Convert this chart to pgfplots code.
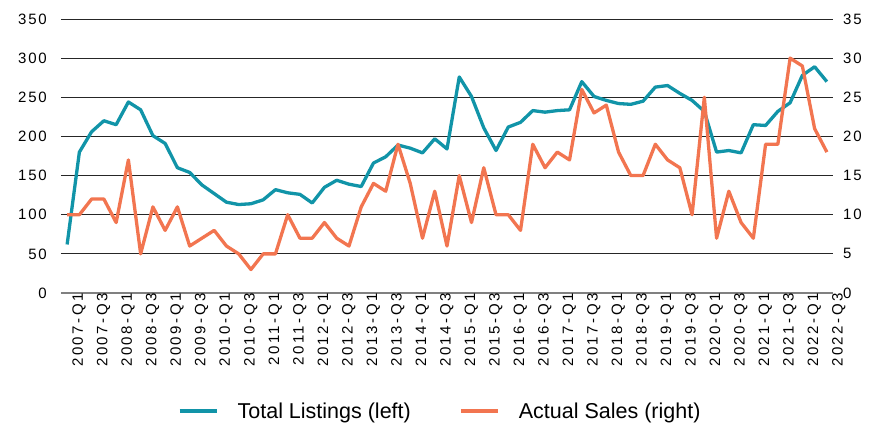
\documentclass[border=0pt]{standalone}
\usepackage{fontspec}
\setmainfont{Liberation Sans}[LetterSpace=12]
\newfontfamily\legfont{Liberation Sans}
\newfontfamily\xfont{Liberation Sans}[LetterSpace=17]
\usepackage{pgfplots}
\usepackage{pgfplotstable}
\pgfplotsset{compat=1.18}
\definecolor{tealc}{RGB}{17,148,168}
\definecolor{orngc}{RGB}{242,117,80}
\pgfplotstableread{
x listings sales
0 62 10
1 180 10
2 206 12
3 220 12
4 215 9
5 244 17
6 234 5
7 201 11
8 191 8
9 160 11
10 154 6
11 138 7
12 127 8
13 116 6
14 113 5
15 114 3
16 119 5
17 132 5
18 128 10
19 126 7
20 115 7
21 135 9
22 144 7
23 139 6
24 136 11
25 166 14
26 174 13
27 189 19
28 185 14
29 179 7
30 197 13
31 184 6
32 276 15
33 251 9
34 211 16
35 182 10
36 212 10
37 218 8
38 233 19
39 231 16
40 233 18
41 234 17
42 270 26
43 251 23
44 246 24
45 242 18
46 241 15
47 245 15
48 263 19
49 265 17
50 255 16
51 246 10
52 232 25
53 180 7
54 182 13
55 179 9
56 215 7
57 214 19
58 232 19
59 243 30
60 278 29
61 289 21
62 270 18
}\datatable
\begin{document}
\begin{tikzpicture}
\path[use as bounding box] (-61bp,-134bp) rectangle (816bp,293bp);
\begin{axis}[
  scale only axis, width=772bp, height=274bp,
  xmin=-0.5, xmax=62.5, ymin=0, ymax=350,
  ytick={0,50,...,350},
  xtick={0,2,...,62},
  xticklabels={2007-Q1,2007-Q3,2008-Q1,2008-Q3,2009-Q1,2009-Q3,2010-Q1,2010-Q3,2011-Q1,2011-Q3,2012-Q1,2012-Q3,2013-Q1,2013-Q3,2014-Q1,2014-Q3,2015-Q1,2015-Q3,2016-Q1,2016-Q3,2017-Q1,2017-Q3,2018-Q1,2018-Q3,2019-Q1,2019-Q3,2020-Q1,2020-Q3,2021-Q1,2021-Q3,2022-Q1,2022-Q3},
  major tick length=0pt,
  /pgf/number format/assume math mode=true,
  xticklabel style={rotate=90, anchor=east, inner sep=0pt, yshift=-12bp, font=\xfont\fontsize{15bp}{15bp}\selectfont},
  yticklabel style={anchor=east, inner sep=0pt, xshift=-14bp, font=\fontsize{15bp}{15bp}\selectfont},
  axis x line*=bottom, axis y line*=left,
  x axis line style={-, draw=black!50, line width=1.6bp},
  y axis line style={draw=none},
  ymajorgrids, grid style={black!85, line width=0.8bp},
  clip=false,
]
\addplot[tealc, line width=3.3bp, line join=round] table[x=x, y=listings] {\datatable};
\end{axis}
\begin{axis}[
  scale only axis, width=772bp, height=274bp,
  xmin=-0.5, xmax=62.5, ymin=0, ymax=35,
  ytick={0,5,...,35},
  xtick=\empty,
  major tick length=0pt,
  /pgf/number format/assume math mode=true,
  yticklabel style={anchor=west, inner sep=0pt, xshift=10bp, font=\fontsize{15bp}{15bp}\selectfont},
  axis x line=none, axis y line*=right,
  y axis line style={draw=none},
  clip=false,
  legend columns=2,
  legend style={at={(0.491,-0.431)}, anchor=center, draw=none, fill=none,
    font=\legfont\fontsize{21.5bp}{21.5bp}\selectfont,
    /tikz/every odd column/.append style={column sep=17bp},
    /tikz/every even column/.append style={column sep=46bp}},
  legend image code/.code={\draw[#1, line width=4bp] (0bp,0bp) -- (37bp,0bp);},
]
\addlegendimage{tealc}
\addlegendentry{Total Listings (left)}
\addplot[orngc, line width=3.3bp, line join=round] table[x=x, y=sales] {\datatable};
\addlegendentry{Actual Sales (right)}
\end{axis}
\end{tikzpicture}
\end{document}
